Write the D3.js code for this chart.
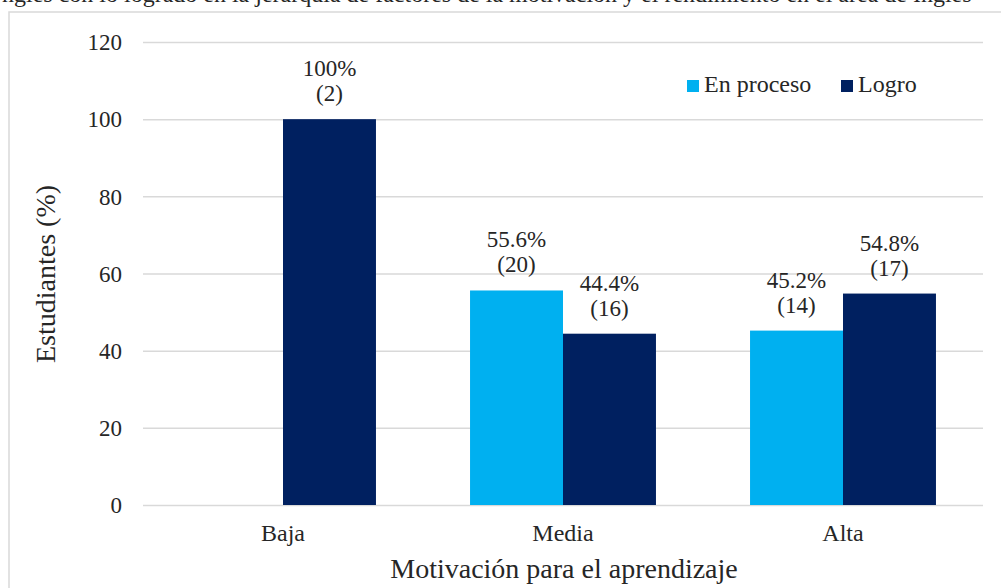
<!DOCTYPE html>
<html><head><meta charset="utf-8">
<script src="https://cdn.jsdelivr.net/npm/d3@7"></script>
<style>body{margin:0;background:#fff}svg{display:block}svg text{font-family:"Liberation Serif","Times New Roman",serif !important;fill:#262626}</style>
</head><body>
<svg id="c" width="1001" height="588"></svg>
<script>
const categories = ["Baja", "Media", "Alta"];
const seriesNames = ["En proceso", "Logro"];
const enProceso = [null, 55.6, 45.2];
const logro = [100, 44.4, 54.8];
const enProcesoN = [null, 20, 14];
const logroN = [2, 16, 17];
const yTicks = [0, 20, 40, 60, 80, 100, 120];
const colors = ["#00B0F0", "#002060"];
const FONT = '"Liberation Serif", "Times New Roman", serif';

const svg = d3.select("#c");
const plot = {left: 143, right: 983, top: 42, bottom: 505};

// caption line of the source page, cut off at the top edge as in the original
svg.append("text").attr("x", 2).attr("y", 2).attr("font-size", 24)
  .style("font-family", FONT)
  .text("ngles con lo logrado en la jerarquía de factores de la motivación y el rendimiento en el área de Inglés");

// frame
svg.append("rect").attr("x", 9).attr("y", 12).attr("width", 1010).attr("height", 600)
  .attr("fill", "#fff").attr("stroke", "#d9d9d9").attr("stroke-width", 1.5);

const x0 = d3.scaleBand().domain(categories).range([plot.left, plot.right]).paddingInner(0.336).paddingOuter(0.168);
const x1 = d3.scaleBand().domain(seriesNames).range([0, x0.bandwidth()]);
const y = d3.scaleLinear().domain([0, 120]).range([plot.bottom, plot.top]);

// grid + y tick labels
const yAxis = d3.axisLeft(y).tickValues(yTicks).tickSize(-(plot.right - plot.left)).tickPadding(21);
const gy = svg.append("g").attr("transform", `translate(${plot.left},0)`).call(yAxis);
gy.select(".domain").remove();
gy.selectAll(".tick line").attr("stroke", "#d9d9d9").attr("stroke-width", 1.5);
gy.selectAll(".tick text").attr("font-size", 23).style("font-family", FONT).attr("fill", "#262626").attr("dy", "0.34em");

const data = [];
categories.forEach((c, i) => {
  data.push({cat: c, s: seriesNames[0], v: enProceso[i], n: enProcesoN[i], col: colors[0]});
  data.push({cat: c, s: seriesNames[1], v: logro[i], n: logroN[i], col: colors[1]});
});
const valid = data.filter(d => d.v != null);

svg.append("g").selectAll("rect").data(valid).join("rect")
  .attr("x", d => x0(d.cat) + x1(d.s))
  .attr("width", x1.bandwidth())
  .attr("y", d => y(d.v))
  .attr("height", d => y(0) - y(d.v))
  .attr("fill", d => d.col);

const lab = svg.append("g");
valid.forEach(d => {
  const cx = x0(d.cat) + x1(d.s) + x1.bandwidth() / 2;
  const pct = d.v === 100 ? "100%" : d3.format(".1f")(d.v) + "%";
  lab.append("text").attr("x", cx).attr("y", y(d.v) - 43).attr("text-anchor", "middle").attr("font-size", 23).style("font-family", FONT).text(pct);
  lab.append("text").attr("x", cx).attr("y", y(d.v) - 18).attr("text-anchor", "middle").attr("font-size", 23).style("font-family", FONT).text("(" + d.n + ")");
});

// x axis labels
const gx = svg.append("g").attr("transform", `translate(0,${plot.bottom})`)
  .call(d3.axisBottom(x0).tickSize(0).tickPadding(0));
gx.select(".domain").remove();
gx.selectAll(".tick text").attr("font-size", 24).style("font-family", FONT).attr("fill", "#262626").attr("dy", 0).attr("y", 36);

// axis titles
svg.append("text").attr("x", (plot.left + plot.right) / 2 + 1).attr("y", 578).attr("text-anchor", "middle").attr("font-size", 28).style("font-family", FONT).text("Motivación para el aprendizaje");
svg.append("text").attr("transform", "translate(55,274) rotate(-90)").attr("text-anchor", "middle").attr("font-size", 28).style("font-family", FONT).text("Estudiantes (%)");

// legend
const legX = [687, 841];
seriesNames.forEach((s, i) => {
  svg.append("rect").attr("x", legX[i]).attr("y", 80).attr("width", 12).attr("height", 12).attr("fill", colors[i]);
  svg.append("text").attr("x", legX[i] + 17).attr("y", 92).attr("font-size", 24).style("font-family", FONT).text(s);
});
</script>
</body></html>
